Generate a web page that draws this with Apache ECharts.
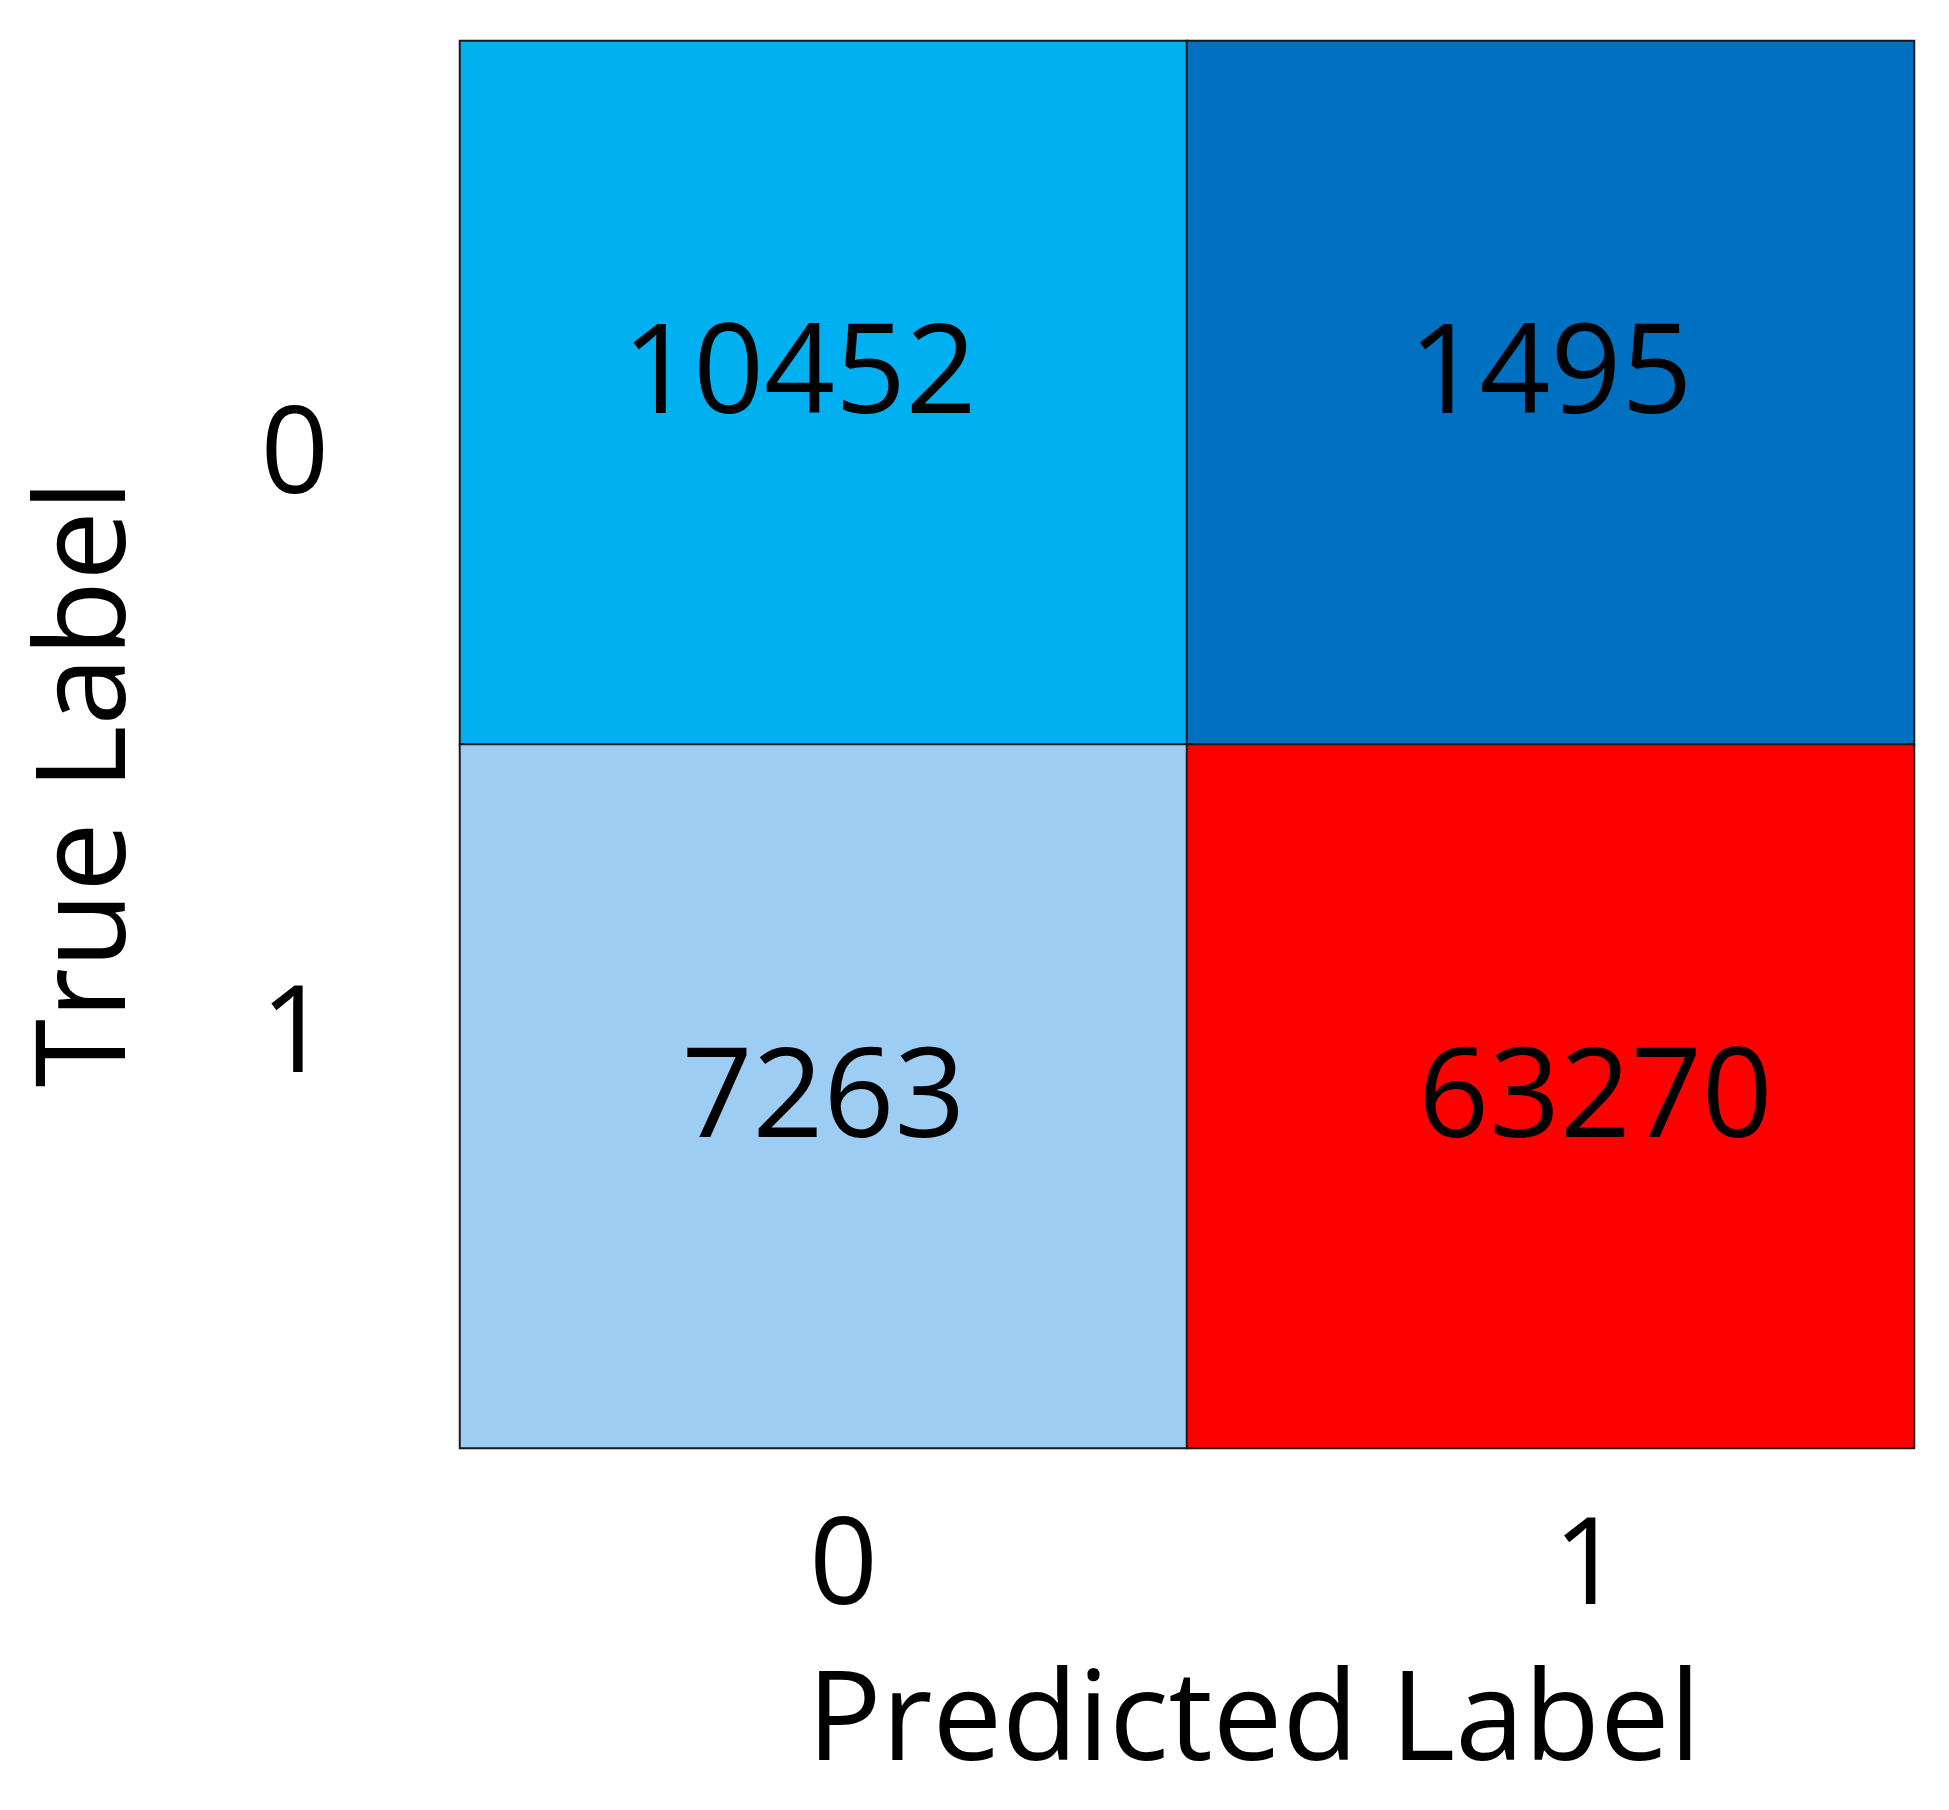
<!DOCTYPE html>
<html>
<head>
<meta charset="utf-8">
<script src="https://cdn.jsdelivr.net/npm/echarts@6/dist/echarts.min.js"></script>
<style>
  html, body { margin: 0; padding: 0; background: #fff; }
  #main { width: 1949px; height: 1810px; }
</style>
</head>
<body>
<div id="main"></div>
<script>
// confusion matrix
const predictedLabels = ['0', '1'];
const trueLabels = ['0', '1'];
// counts[trueIndex][predIndex]
const counts = [
  [10452, 1495],
  [7263, 63270]
];
const cellColors = [
  ['#00b0f0', '#0070c0'],
  ['#9ecdf3', '#ff0000']
];
// labels in the original are not quite centred in their cells
const labelShift = [
  [[-24, -15], [0, -15]],
  [[0, 5], [45, 5]]
];

const FONT = 'Open Sans';

const data = [];
trueLabels.forEach((t, i) => {
  predictedLabels.forEach((p, j) => {
    data.push({
      value: [j, i, counts[i][j]],
      itemStyle: { color: cellColors[i][j] },
      label: { offset: labelShift[i][j] }
    });
  });
});

const chart = echarts.init(document.getElementById('main'));
const option = {
  backgroundColor: '#fff',
  animation: false,
  grid: { left: 460, top: 41, width: 1454, height: 1407 },
  xAxis: {
    type: 'category',
    data: predictedLabels,
    name: 'Predicted Label',
    nameLocation: 'middle',
    nameGap: 215,
    nameTextStyle: { fontFamily: FONT, fontSize: 124, color: '#000', padding: [0, 0, 0, 134] },
    axisLine: { show: false },
    axisTick: { show: false },
    splitLine: { show: false },
    axisLabel: {
      fontFamily: FONT, fontSize: 120, color: '#000', margin: 62,
      formatter: (v) => v === '0' ? '{a|' + v + '}' : '{b|' + v + '}',
      rich: {
        a: { fontFamily: FONT, fontSize: 120, color: '#000', padding: [0, 0, 0, 40] },
        b: { fontFamily: FONT, fontSize: 120, color: '#000', padding: [0, 0, 0, 74] }
      }
    }
  },
  yAxis: {
    type: 'category',
    data: trueLabels,
    inverse: true,
    name: 'True Label',
    nameLocation: 'middle',
    nameGap: 308,
    nameTextStyle: { fontFamily: FONT, fontSize: 124, color: '#000', padding: [0, 78, 0, 0] },
    axisLine: { show: false },
    axisTick: { show: false },
    splitLine: { show: false },
    axisLabel: {
      fontFamily: FONT, fontSize: 120, color: '#000', margin: 131,
      formatter: (v) => v === '0' ? '{lo|' + v + '}' : '{hi|' + v + '}',
      rich: {
        lo: { fontFamily: FONT, fontSize: 120, color: '#000', padding: [132, 0, 0, 0] },
        hi: { fontFamily: FONT, fontSize: 120, color: '#000', padding: [0, 0, 116, 0] }
      }
    }
  },
  series: [{
    type: 'heatmap',
    data: data,
    itemStyle: { borderColor: '#1a1a1a', borderWidth: 2 },
    label: {
      show: true,
      fontFamily: FONT,
      fontSize: 124,
      color: '#000',
      formatter: (p) => String(p.value[2])
    },
    emphasis: { disabled: true }
  }]
};
chart.setOption(option);
</script>
</body>
</html>
